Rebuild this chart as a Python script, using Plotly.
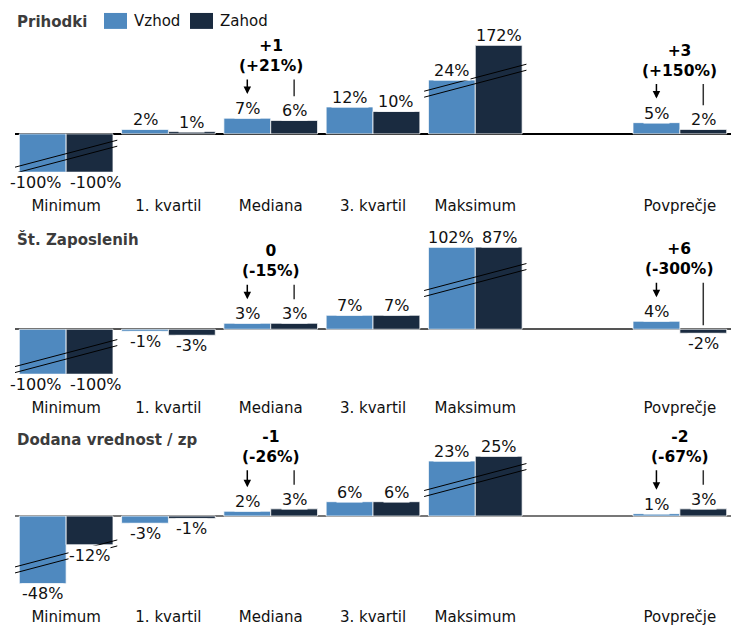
import plotly.graph_objects as go

# ---- data -----------------------------------------------------------------
categories = ["Minimum", "1. kvartil", "Mediana", "3. kvartil", "Maksimum", "Povprečje"]
series_names = ["Vzhod", "Zahod"]

panel_titles = ["Prihodki", "Št. Zaposlenih", "Dodana vrednost / zp"]

# values in %, per panel: Vzhod, Zahod
prihodki_vzhod = [-100, 2, 7, 12, 24, 5]
prihodki_zahod = [-100, 1, 6, 10, 172, 2]
zaposleni_vzhod = [-100, -1, 3, 7, 102, 4]
zaposleni_zahod = [-100, -3, 3, 7, 87, -2]
dodana_vzhod = [-48, -3, 2, 6, 23, 1]
dodana_zahod = [-12, -1, 3, 6, 25, 3]

# East-West differences shown above the median and the average
compare_categories = ["Mediana", "Povprečje"]
prihodki_diff = [("+1", "(+21%)"), ("+3", "(+150%)")]
zaposleni_diff = [("0", "(-15%)"), ("+6", "(-300%)")]
dodana_diff = [("-1", "(-26%)"), ("-2", "(-67%)")]

# groups drawn on a broken scale
broken_categories = ["Minimum", "Maksimum"]

# ---- styling / layout -------------------------------------------------------
W, H = 734, 626
FONT = "DejaVu Sans"
COL_E = "#4f89bf"
COL_W = "#1a2b40"
BARGAP = 0.084
HALF = (1 - BARGAP) / 4  # offset of each bar centre from the group centre
LABEL_SIZE = 16
X0_PX, X1_PX = 15, 731

# slot positions: the average is set apart by one empty slot
positions = [i for i in range(len(categories) - 1)] + [len(categories)]
n_slots = len(categories) + 1
slot_px = (X1_PX - X0_PX) / n_slots

# approximate glyph advance widths (em) for the label font
CHAR_W = {"-": 0.361, "%": 0.95, "+": 0.838, "(": 0.39, ")": 0.39}


def text_width(s, size):
    return sum(CHAR_W.get(c, 0.636) for c in s) * size


# per panel: zero line pixel, pixels per %, visible pixels above / below zero
panels = [
    dict(title=panel_titles[0], east=prihodki_vzhod, west=prihodki_zahod, diff=prihodki_diff,
         zero=134.3, ppu=2.25, up=88.6, down=38.0, zcol="#000000", zw=1.5),
    dict(title=panel_titles[1], east=zaposleni_vzhod, west=zaposleni_zahod, diff=zaposleni_diff,
         zero=330.3, ppu=2.0, up=82.0, down=44.7, zcol="#555555", zw=2),
    dict(title=panel_titles[2], east=dodana_vzhod, west=dodana_zahod, diff=dodana_diff,
         zero=517.7, ppu=2.4, up=78.0, down=67.3, zcol="#777777", zw=1.5),
]

fig = go.Figure()
annotations = []
shapes = []

x_dom = [X0_PX / W, X1_PX / W]

for k, p in enumerate(panels):
    sfx = "" if k == 0 else str(k + 1)
    xa, ya = "x" + sfx, "y" + sfx
    ppu = p["ppu"]
    lo, hi = -p["down"] / ppu, p["up"] / ppu

    for name, vals, col in [(series_names[0], p["east"], COL_E), (series_names[1], p["west"], COL_W)]:
        fig.add_trace(go.Bar(
            x=positions, y=vals, name=name, xaxis=xa, yaxis=ya,
            marker=dict(color=col, line=dict(color="rgba(255,255,255,0.75)", width=1)),
            showlegend=False, hoverinfo="skip",
        ))

    dom = [1 - (p["zero"] + p["down"]) / H, 1 - (p["zero"] - p["up"]) / H]
    fig.update_layout(**{
        "xaxis" + sfx: dict(domain=x_dom, range=[-0.5, n_slots - 0.5],
                            tickvals=positions, ticktext=categories, showgrid=False,
                            zeroline=False, showline=False, ticks="",
                            tickfont=dict(family=FONT, size=15, color="#111111"),
                            ticklabelstandoff=23, anchor=ya, fixedrange=True),
        "yaxis" + sfx: dict(domain=dom, range=[lo, hi], showgrid=False, showticklabels=False,
                            zeroline=True, zerolinecolor=p["zcol"], zerolinewidth=p["zw"],
                            anchor=xa, fixedrange=True),
    })

    def clip_px(v):
        return max(min(v, hi), lo) * ppu

    # value labels; labels of a group that would collide are pushed apart
    for i, pos in enumerate(positions):
        ev, wv = p["east"][i], p["west"][i]
        te, tw = f"{ev}%", f"{wv}%"
        push = 0
        same_side = (ev >= 0) == (wv >= 0)
        if same_side and abs(clip_px(ev) - clip_px(wv)) < 18:
            need = (text_width(te, LABEL_SIZE) + text_width(tw, LABEL_SIZE)) / 2 + 8
            gap = 2 * HALF * slot_px
            push = max(0, (need - gap) / 2)
        for off, v, t, xs in [(-HALF, ev, te, -push), (HALF, wv, tw, push)]:
            end = clip_px(v)
            annotations.append(dict(
                x=pos + off, y=0, xref=xa, yref=ya, text=t, showarrow=False,
                yanchor="bottom" if v >= 0 else "top",
                yshift=end - 1 if v >= 0 else end, xshift=xs,
                font=dict(family=FONT, size=LABEL_SIZE, color="#111111"),
                bgcolor="white", borderpad=0,
            ))

    # break marks on the extreme groups
    for cat in broken_categories:
        i = categories.index(cat)
        pos = positions[i]
        ev, wv = p["east"][i], p["west"][i]
        if cat == "Minimum":
            mid = 0.6 * min(clip_px(ev), clip_px(wv))
        else:
            mid = 0.6 * max(clip_px(ev), clip_px(wv))
        for d in (3, -3):
            shapes.append(dict(
                type="line", xref=xa, yref=ya, ysizemode="pixel", yanchor=0,
                x0=pos - 0.5, x1=pos + 0.5, y0=mid - 13.5 + d, y1=mid + 13.5 + d,
                line=dict(color="#000000", width=1), layer="above",
            ))

    # difference callouts
    for cat, (d_abs, d_rel) in zip(compare_categories, p["diff"]):
        i = categories.index(cat)
        pos = positions[i]
        tips = []
        for v in (p["east"][i], p["west"][i]):
            tips.append(clip_px(v) + 24 if v > 0 else 4)
        top = max(tips) + 16
        # arrow to the East bar
        annotations.append(dict(
            x=pos - HALF, y=0, xref=xa, yref=ya, text="", showarrow=True,
            yshift=tips[0], ax=0, ay=-(top - tips[0]), axref="pixel", ayref="pixel",
            arrowhead=2, arrowsize=1, arrowwidth=1.5, arrowcolor="#000000",
        ))
        # plain marker line to the West bar
        annotations.append(dict(
            x=pos + HALF, y=0, xref=xa, yref=ya, text="", showarrow=True,
            yshift=tips[1], ax=0, ay=-(top - tips[1]), axref="pixel", ayref="pixel",
            arrowhead=0, arrowwidth=1.5, arrowcolor="#333333",
        ))
        annotations.append(dict(
            x=pos, y=0, xref=xa, yref=ya, text=f"<b>{d_abs}<br>{d_rel}</b>", showarrow=False,
            yanchor="middle", yshift=top + 22, align="center",
            font=dict(family=FONT, size=15.5, color="#000000"),
        ))

# panel titles
title_y = [22, 240, 441]
for t, ty in zip(panel_titles, title_y):
    annotations.append(dict(
        x=X0_PX / W, y=1 - ty / H, xref="paper", yref="paper", xanchor="left", yanchor="middle",
        text=f"<b>{t}</b>", showarrow=False,
        font=dict(family=FONT, size=15, color="#3c3c3c"),
    ))

# legend
legend_items = [(series_names[0], COL_E, 104), (series_names[1], COL_W, 190)]
for name, col, lx in legend_items:
    shapes.append(dict(type="rect", xref="paper", yref="paper",
                       x0=lx / W, x1=(lx + 23) / W, y0=1 - 29 / H, y1=1 - 13 / H,
                       fillcolor=col, line=dict(width=0)))
    annotations.append(dict(
        x=(lx + 28) / W, y=1 - 21 / H, xref="paper", yref="paper", xanchor="left",
        yanchor="middle", text=name, showarrow=False,
        font=dict(family=FONT, size=15, color="#111111"),
    ))

fig.update_layout(
    width=W, height=H, margin=dict(l=0, r=0, t=0, b=0),
    paper_bgcolor="white", plot_bgcolor="white",
    barmode="group", bargap=BARGAP, bargroupgap=0,
    annotations=annotations, shapes=shapes,
    font=dict(family=FONT, size=15, color="#111111"),
    showlegend=False,
)

fig.write_html("out.html", config={"displayModeBar": False})
